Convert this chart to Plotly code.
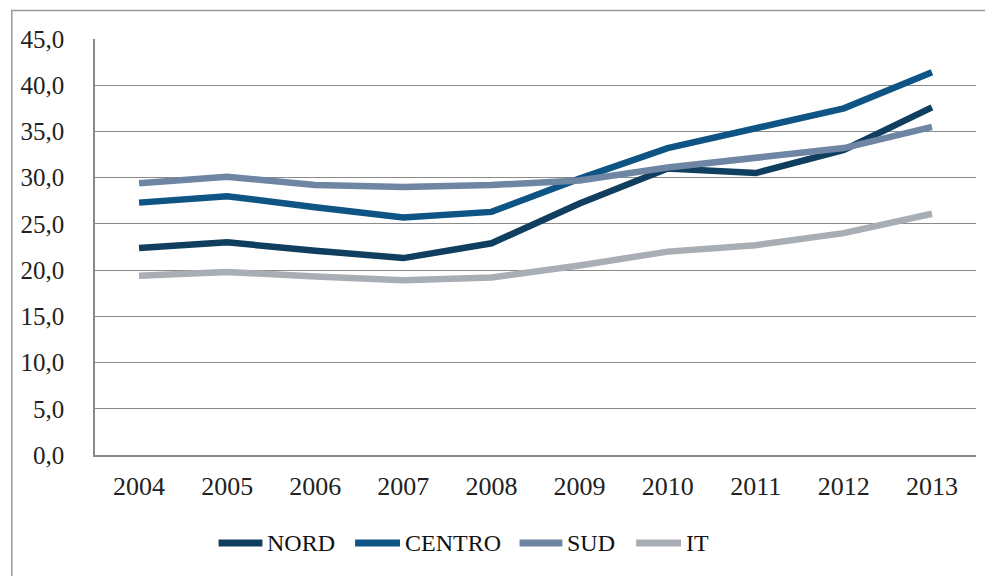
import plotly.graph_objects as go

years = ["2004", "2005", "2006", "2007", "2008", "2009", "2010", "2011", "2012", "2013"]
nord = [22.4, 23.0, 22.1, 21.3, 22.9, 27.2, 31.0, 30.5, 33.0, 37.6]
centro = [27.3, 28.0, 26.8, 25.7, 26.3, 29.9, 33.2, 35.4, 37.5, 41.4]
sud = [29.4, 30.1, 29.2, 29.0, 29.2, 29.7, 31.1, 32.1, 33.2, 35.5]
it = [19.4, 19.8, 19.3, 18.9, 19.2, 20.5, 22.0, 22.7, 24.0, 26.1]

series = [
    ("NORD", nord, "#0f3e5e"),
    ("CENTRO", centro, "#0e5484"),
    ("SUD", sud, "#6e86a3"),
    ("IT", it, "#a9aeb5"),
]

# page has an 8px body margin; figure sized to fit the window
OFF = 8
W, H = 985, 568
L, R, T, B = 84, 17, 31, 121
pw, ph = W - L - R, H - T - B

def px(x):  # page x -> paper
    return (x - OFF - L) / pw

def py(y):  # page y -> paper
    return (H - B - (y - OFF)) / ph

fig = go.Figure()
for name, vals, col in series:
    fig.add_trace(go.Scatter(x=years, y=vals, name=name, mode="lines",
                             line=dict(color=col, width=6.5), showlegend=False))

fig.add_shape(type="rect", xref="paper", yref="paper",
              x0=px(8.5), x1=px(1010), y0=py(10.5), y1=py(600),
              line=dict(color="#9a9a9a", width=1.5), layer="below")

# custom legend (layout positions in page pixels)
legend_line_x = [(216, 260), (353, 398), (518, 561), (635, 680)]
legend_y = 543
for (name, _, col), (a, b) in zip(series, legend_line_x):
    fig.add_shape(type="line", xref="paper", yref="paper",
                  x0=px(a), x1=px(b), y0=py(legend_y), y1=py(legend_y),
                  line=dict(color=col, width=7))
    fig.add_annotation(xref="paper", yref="paper", x=px(b + 3), y=py(legend_y),
                       xanchor="left", yanchor="middle", text=name, showarrow=False,
                       font=dict(family="Liberation Serif", size=24, color="#111"))

fig.update_layout(
    width=W, height=H,
    margin=dict(l=L, r=R, t=T, b=B),
    paper_bgcolor="white", plot_bgcolor="white",
    separators=",.",
    font=dict(family="Liberation Serif", size=25, color="#222"),
    showlegend=False,
    xaxis=dict(type="category", showgrid=False, showline=True, linecolor="#8a8a8a",
               linewidth=1.5, ticks="", range=[-0.5, 9.5], ticklabelstandoff=7,
               tickfont=dict(size=26)),
    yaxis=dict(range=[0, 45], dtick=5, tickformat=".1f", showgrid=True,
               gridcolor="#8a8a8a", gridwidth=1.2, showline=True, linecolor="#8a8a8a",
               linewidth=1.5, ticks="", zeroline=False, ticklabelstandoff=24),
)

fig.write_html("out.html")
